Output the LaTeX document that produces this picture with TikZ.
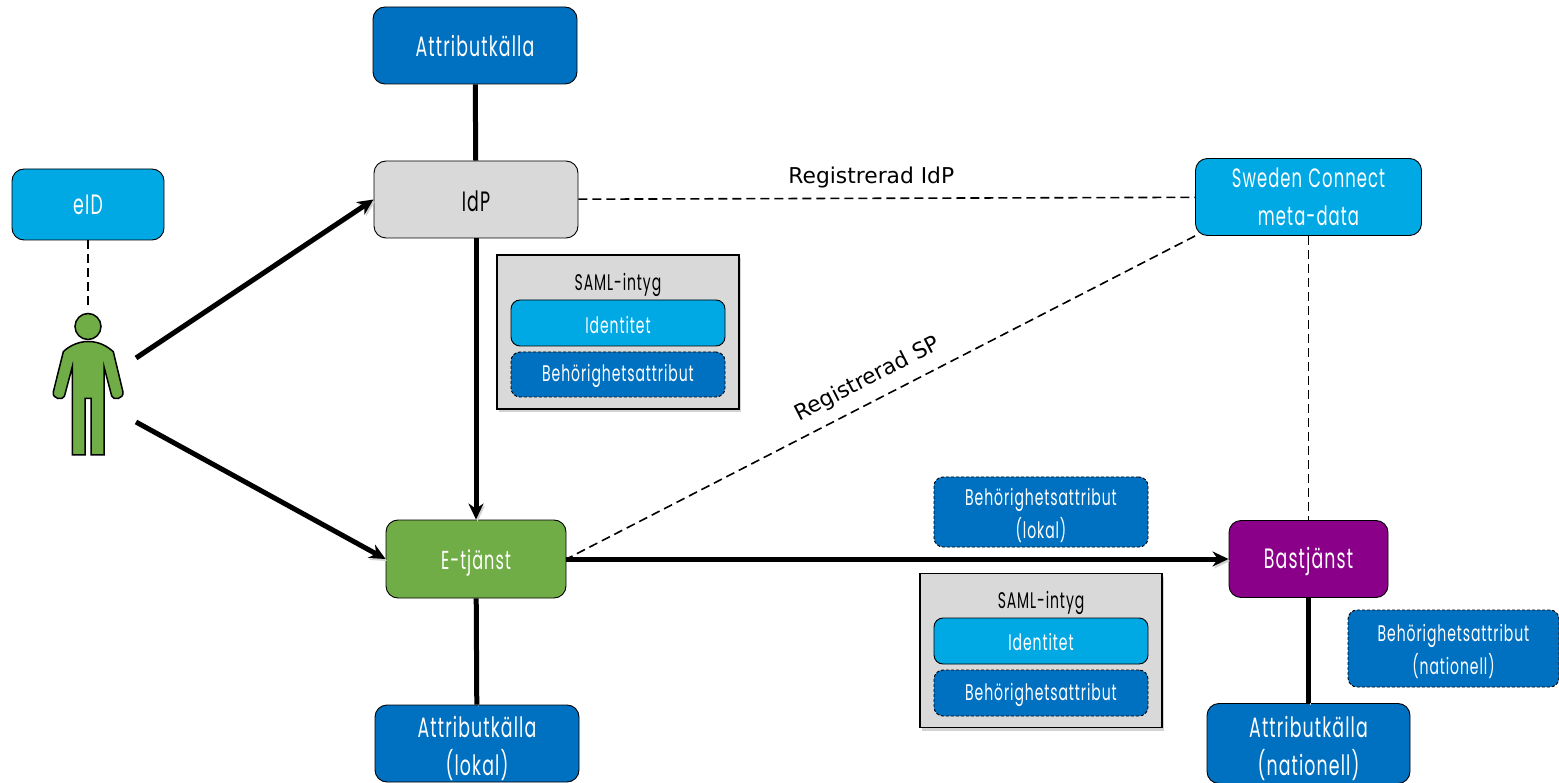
\documentclass[tikz,border=0pt]{standalone}
\usepackage{xcolor}
\usepackage{fontspec}
\setmainfont[FakeStretch=0.62,LetterSpace=4,WordSpace=1.15]{Poppins}
\newfontfamily\regfont{DejaVu Sans}
\usetikzlibrary{
    arrows.meta,
    shadows,
    positioning
}
\definecolor{skyblue}{HTML}{00A8E4}
\definecolor{deepblue}{HTML}{0070C0}
\definecolor{tilegray}{HTML}{D9D9D9}
\definecolor{tilegreen}{HTML}{70AD47}
\definecolor{tilepurple}{HTML}{8A0088}
\newcommand{\lowline}[1]{\rule{0pt}{#1}}
\tikzset{
    >={Stealth[length=16pt,width=15pt]},
    tile/.style={draw=black, line width=.9pt, rounded corners=12pt, align=center, inner sep=0pt,
        text=white, font=\fontsize{28}{38}\selectfont},
    small tile/.style={tile, rounded corners=9pt, font=\fontsize{22.6}{33}\selectfont},
    sky/.style={fill=skyblue},
    deep/.style={fill=deepblue},
    attr/.style={small tile, deep, densely dashed, minimum width=214pt},
    saml/.style={draw=black, line width=1.5pt, fill=tilegray, minimum width=242pt, minimum height=154pt,
        drop shadow={shadow xshift=2pt, shadow yshift=-3pt, opacity=.35}},
    flow/.style={line width=5pt, preaction={draw=black!18, transform canvas={shift={(1.5pt,-2pt)}}}},
    reg/.style={line width=1.6pt, dash pattern=on 9pt off 5pt},
    title/.style={font=\fontsize{22.6}{24}\selectfont},
    reglabel/.style={font=\regfont\fontsize{21.8}{24}\selectfont},
}
\begin{document}
\begin{tikzpicture}[x=1pt,y=-1pt,on grid]
       \useasboundingbox (0,0) rectangle (1559,783);
       \node[tile,fill=tilegray,text=black,minimum width=204pt,minimum height=77pt] (idp) at (476,199.5) {\lowline{25pt}IdP};
       \node[tile,deep,minimum width=204pt,minimum height=77pt] (attr_0) [above=154pt of idp,xshift=-1pt] {Attributk\"alla};
       \node[tile,font=\fontsize{26}{38}\selectfont,fill=tilegreen,minimum width=180pt,minimum height=78pt] (etj) [below=359.5pt of idp] {\lowline{27pt}E-tj\"anst};
       \node[tile,deep,minimum width=204pt,minimum height=77pt] (attr_1) [below=184.5pt of etj,xshift=1pt] {\lowline{31pt}Attributk\"alla\\(lokal)};
       \node[tile,fill=tilepurple,minimum width=159pt,minimum height=77pt] (bas) [right=832.5pt of etj] {\lowline{27pt}Bastj\"anst};
       \node[tile,deep,minimum width=203pt,minimum height=80pt] (attr_2) [below=184.5pt of bas] {\lowline{31pt}Attributk\"alla\\(nationell)};
       \node[tile,font=\fontsize{26.5}{38}\selectfont,sky,minimum width=226pt,minimum height=77pt] (conn) [above=362pt of bas] {Sweden Connect\\meta-data};
       \node[tile,sky,minimum width=152pt,minimum height=71pt] (eid) at (88,204.5) {eID};
       % person
       \node[circle,draw=black,line width=1.5pt,fill=tilegreen,minimum size=26pt,inner sep=0pt] (head) at (88,326.5) {};
       \draw[line width=1.5pt,fill=tilegreen] (88.3,341.5) .. controls (100,341.5) and (108,347) .. (113.3,351.7) -- (123,392)
            .. controls (124,399) and (113,401) .. (111.7,396) -- (104,366.7) -- (104,455) -- (91,455) -- (91,398.3)
            -- (85,398.3) -- (85,455) -- (72.3,455) -- (72.3,366.7) -- (64.5,396)
            .. controls (63,401) and (52,399) .. (53.3,392) -- (63.3,351.7) .. controls (68,347) and (77,341.5) .. (88.3,341.5) -- cycle;
       \coordinate (p_up) at (136,358);
       \coordinate (p_down) at (136,422);
       \coordinate (head_top) at (88,310);
       \node[saml] (saml_1) at (618,332) {};
       \node[title] (title_1) [above=47pt of saml_1] {SAML-intyg};
       \node[small tile,sky,minimum width=214pt,minimum height=46pt] (id_1) [above=9pt of saml_1] {\lowline{21pt}Identitet};
       \node[attr,minimum height=45pt] (beh_1) [below=51.5pt of id_1] {\lowline{21pt}Beh\"orighetsattribut};
       \node[saml] (saml_2) at (1041,650.5) {};
       \node[title] (title_2) [above=48pt of saml_2] {SAML-intyg};
       \node[small tile,sky,minimum width=214pt,minimum height=46pt] (id_2) [above=9.5pt of saml_2] {\lowline{19pt}Identitet};
       \node[attr,minimum height=46pt] (beh_2) [below=52pt of id_2] {\lowline{21pt}Beh\"orighetsattribut};
       \node[attr,minimum height=70pt] (beh_3) at (1041,512) {\lowline{25pt}Beh\"orighetsattribut\\(lokal)};
       \node[attr,minimum width=211pt,minimum height=77pt] (beh_4) at (1453.5,648.5) {\lowline{23pt}Beh\"orighetsattribut\\(nationell)};
       \draw[reg] (eid) -- (head_top);
       \draw[reg] (idp) -- (conn) node[pos=.475,above=6.5pt,reglabel] (reg_idp) {Registrerad IdP};
       \draw[reg] (conn.south west) -- (etj.east) node[pos=.505,above=7.5pt,sloped,reglabel] (reg_sp) {Registrerad SP};
       \draw[reg] (conn) -- (bas);
       \draw[flow] (attr_0) -- (idp);
       \draw[flow] (etj) -- (attr_1);
       \draw[flow] (bas) -- (attr_2);
       \draw[flow,->] (idp) -- (etj);
       \draw[flow,->] (p_up) -- (idp.west);
       \draw[flow,->] (p_down) -- (etj.west);
       \draw[flow,->] (etj) -- (bas);
\end{tikzpicture}
\end{document}
